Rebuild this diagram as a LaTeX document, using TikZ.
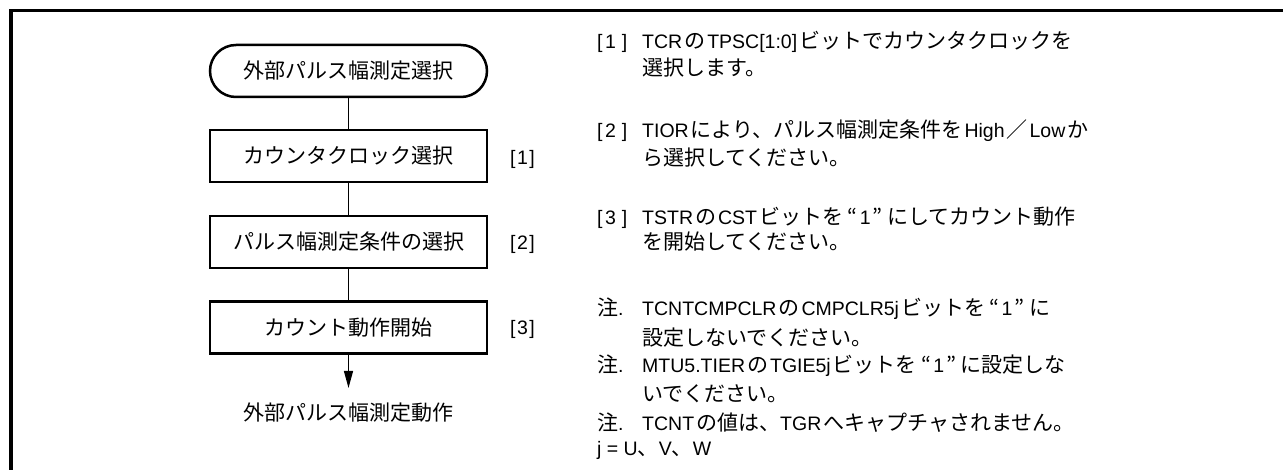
\documentclass[tikz,border=0pt]{standalone}
\usepackage{fontspec}
\setmainfont{Liberation Sans}
\newfontfamily\jpfont{Noto Sans CJK JP}
\usetikzlibrary{arrows.meta}
\newcommand\J[1]{{\jpfont\fontsize{21pt}{24pt}\selectfont #1}}
\newcommand\K[1]{\kern2pt{\jpfont\fontsize{21pt}{24pt}\selectfont #1}\kern2pt}
\begin{document}
\begin{tikzpicture}[x=1pt,y=-1pt,
  base/.style={font=\fontsize{19.5pt}{24pt}\selectfont},
  term/.style={base,draw,line width=2.5pt,rounded corners=26pt,minimum width=277pt,minimum height=52pt,inner sep=0pt},
  proc/.style={base,draw,line width=2.5pt,minimum width=277pt,minimum height=52pt,inner sep=0pt},
  conn/.style={line width=1.2pt},
  lbl/.style={base,anchor=base west,inner sep=0pt},
  txt/.style={base,anchor=base west,inner sep=0pt}]
\useasboundingbox (0,0) rectangle (1283,470);
% frame
\draw[line width=3.5pt] (11,472) -- (11,10.5) -- (1285,10.5);
% flowchart
\node[term] (t0) at (348.5,71) {\J{外部パルス幅測定選択}};
\node[proc] (b1) at (348.5,156) {\J{カウンタクロック選択}};
\node[proc] (b2) at (348.5,242) {\J{パルス幅測定条件の選択}};
\node[proc] (b3) at (348.5,327.5) {\J{カウント動作開始}};
\coordinate (e) at (348.5,388);
\node[base,inner sep=0pt] (fin) at (348.5,413) {\J{外部パルス幅測定動作}};
\draw[conn] (t0) -- (b1);
\draw[conn] (b1) -- (b2);
\draw[conn] (b2) -- (b3);
\draw[conn,-{Triangle[length=17pt,width=9pt]}] (b3) -- (e);
\node[lbl] (l1) at (510,165) {[\kern1.5pt 1\kern1.5pt]};
\node[lbl] (l2) at (510,250) {[\kern1.5pt 2\kern1.5pt]};
\node[lbl] (l3) at (510,335) {[\kern1.5pt 3\kern1.5pt]};
% right column
\node[txt] (r1k) at (597,49) {[\kern2.5pt 1\kern6pt]};
\node[txt] (r1a) at (642,49) {TCR\K{の}TPSC[1:0]\K{ビットでカウンタクロックを}};
\node[txt] (r1b) at (642,76) {\J{選択します。}};
\node[txt] (r2k) at (597,138) {[\kern2.5pt 2\kern6pt]};
\node[txt] (r2a) at (642,138) {TIOR\K{により、パルス幅測定条件を}High\K{／}Low\K{か}};
\node[txt] (r2b) at (642,166) {\J{ら選択してください。}};
\node[txt] (r3k) at (597,225) {[\kern2.5pt 3\kern6pt]};
\node[txt] (r3a) at (642,225) {TSTR\K{の}CST\K{ビットを “}1\K{” にしてカウント動作}};
\node[txt] (r3b) at (642,250) {\J{を開始してください。}};
\node[txt] (n1k) at (597,316) {\J{注}.};
\node[txt] (n1a) at (642,316) {TCNTCMPCLR\K{の}CMPCLR5j\K{ビットを “}1\K{” に}};
\node[txt] (n1b) at (642,345) {\J{設定しないでください。}};
\node[txt] (n2k) at (597,373) {\J{注}.};
\node[txt] (n2a) at (642,373) {MTU5.TIER\K{の}TGIE5j\K{ビットを “}1\K{” に設定しな}};
\node[txt] (n2b) at (642,401) {\J{いでください。}};
\node[txt] (n3k) at (597,430) {\J{注}.};
\node[txt] (n3a) at (642,430) {TCNT\kern2pt\J{の値は、}TGR\K{へキャプチャされません。}};
\node[txt] (jj) at (597,455) {j = U\J{、}V\J{、}W};
\end{tikzpicture}
\end{document}
